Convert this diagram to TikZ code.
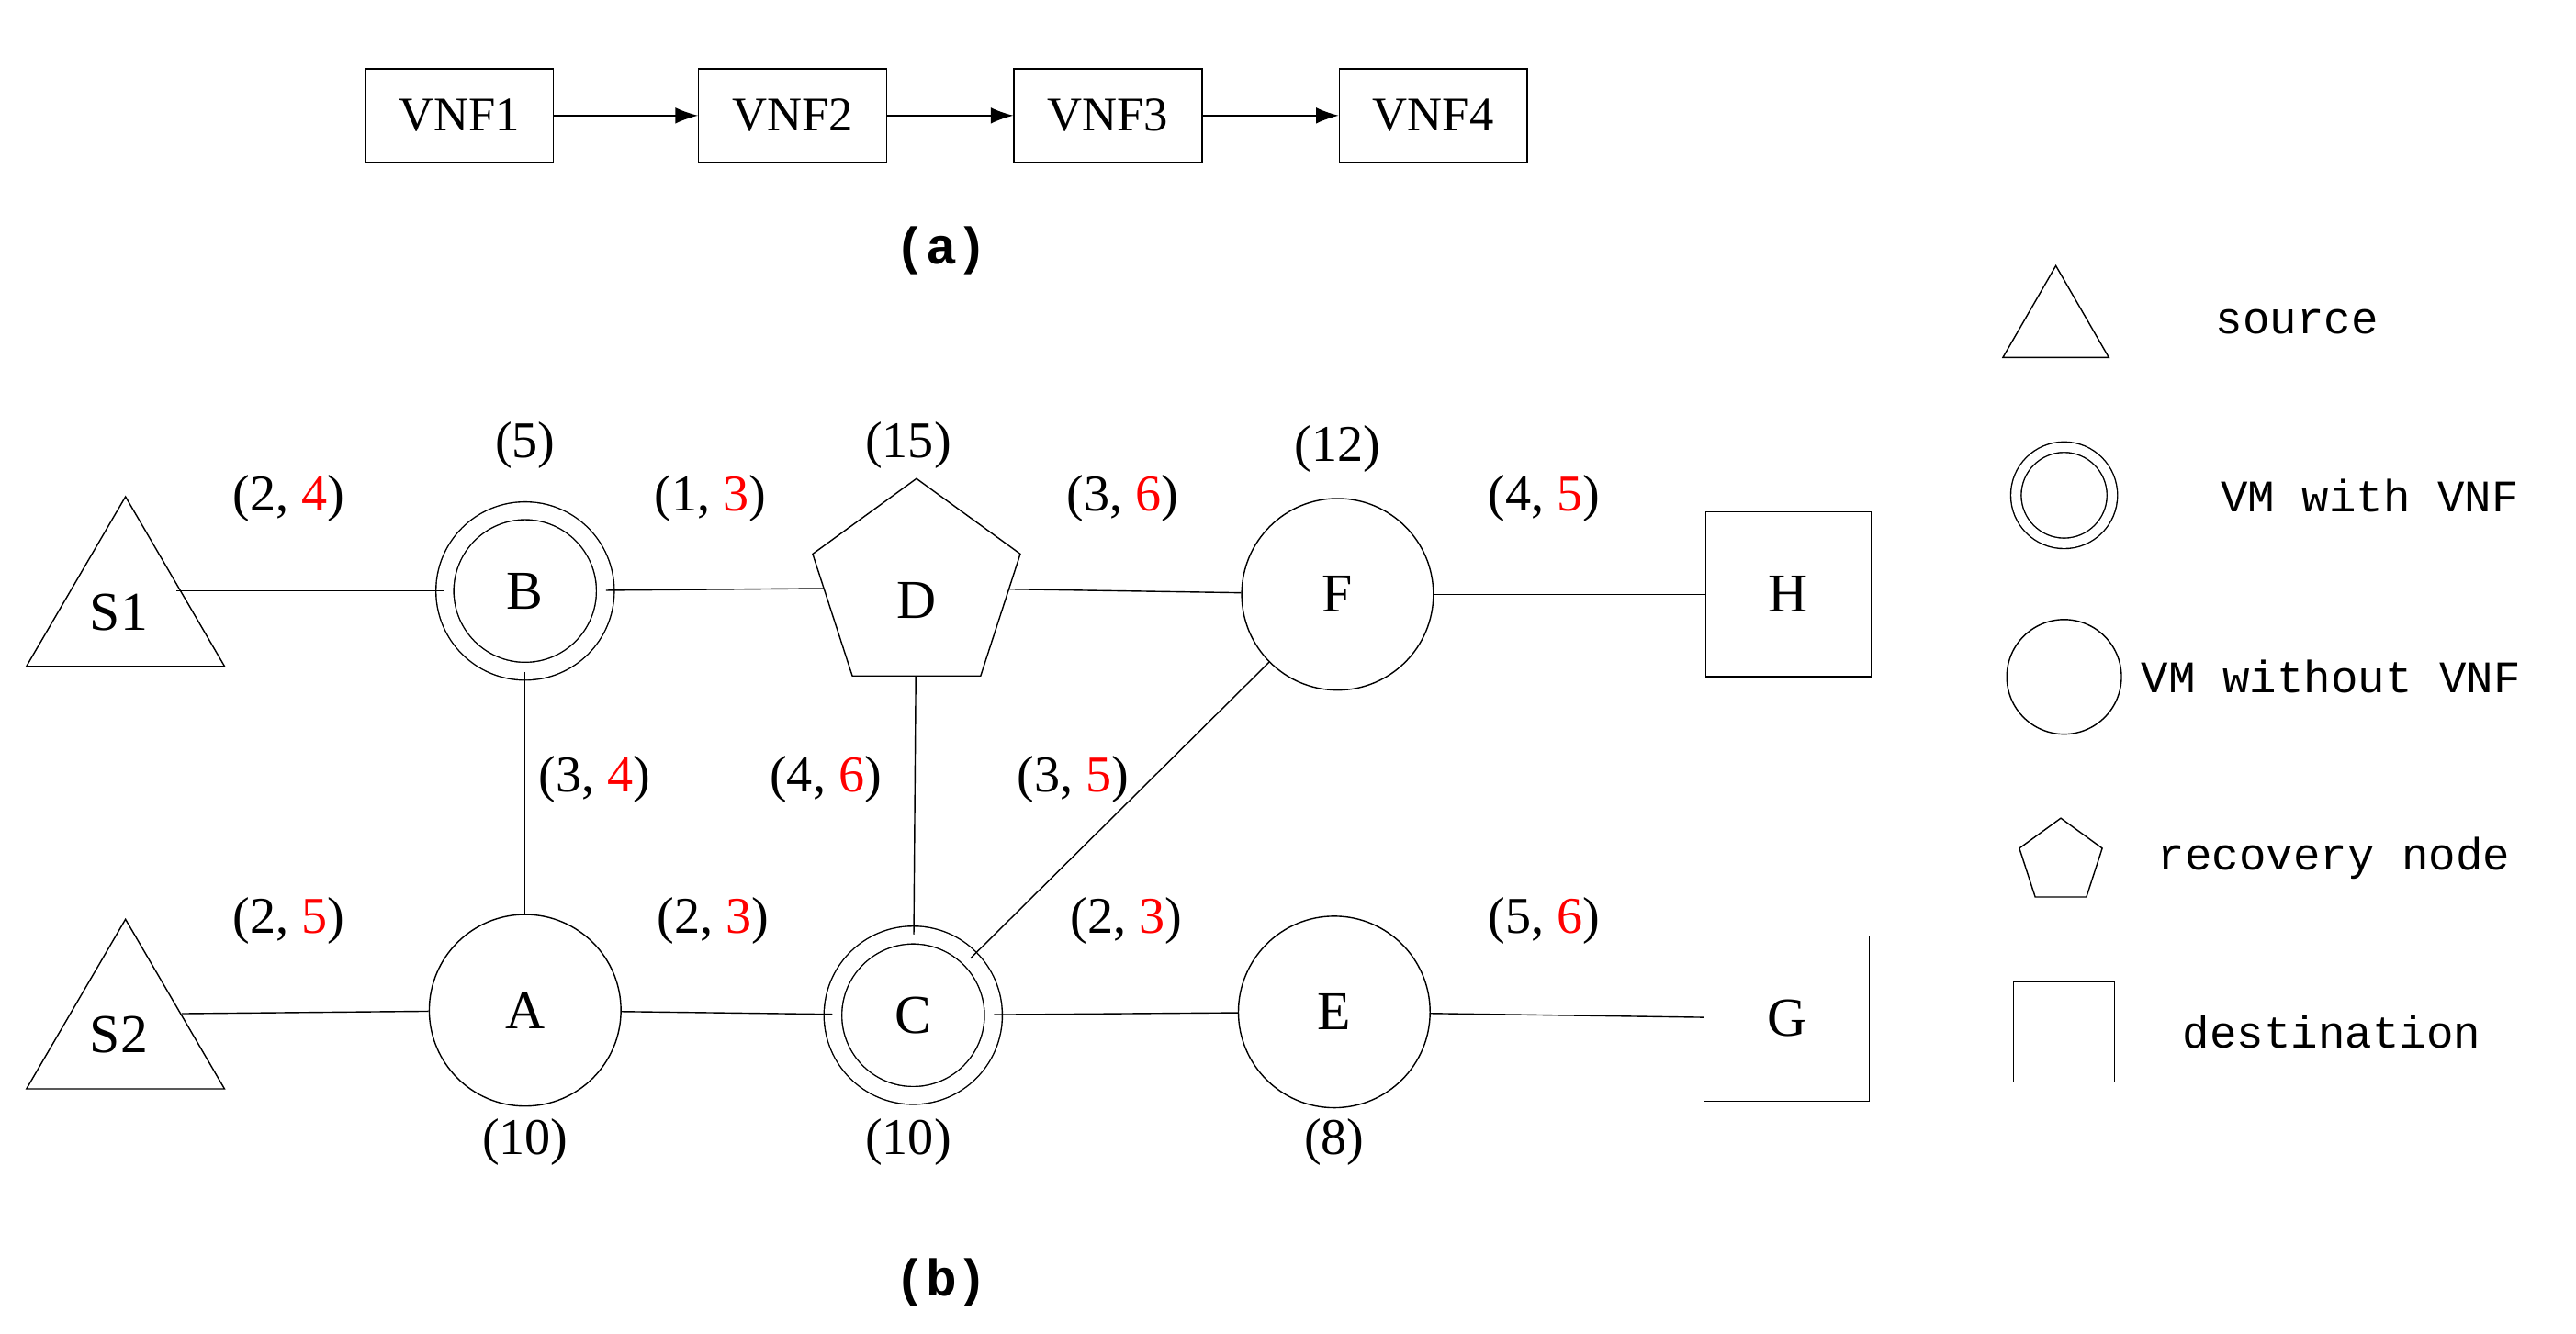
\documentclass[tikz,border=0pt]{standalone}
\usepackage{fontspec}
\setmainfont{Liberation Serif}
\newfontfamily\mono{Liberation Mono}
\usetikzlibrary{shapes.geometric,arrows.meta}
\begin{document}
\begin{tikzpicture}[x=0.018cm,y=-0.018cm,
  box/.style={draw,minimum width=2.05cm,minimum height=1.02cm,inner sep=0,font=\fontsize{15}{17}\selectfont},
  arr/.style={-{Latex[length=7pt,width=5pt]}},
  vm/.style={draw,circle,minimum size=2.09cm,inner sep=0,font=\fontsize{17}{19}\selectfont},
  vmv/.style={draw,circle,double,double distance=0.18cm,minimum size=1.75cm,inner sep=0,font=\fontsize{17}{19}\selectfont},
  tri/.style={draw,isosceles triangle,isosceles triangle apex angle=60,isosceles triangle stretches,shape border rotate=90,minimum width=2.16cm,minimum height=1.85cm,inner sep=0,anchor=south},
  pent/.style={draw,regular polygon,regular polygon sides=5,minimum size=2.38cm,inner sep=0},
  dst/.style={draw,minimum size=1.8cm,inner sep=0,font=\fontsize{17}{19}\selectfont},
  lab/.style={font=\fontsize{16}{18}\selectfont},
  nm/.style={font=\fontsize{17}{19}\selectfont},
  leg/.style={font=\mono\fontsize{14}{16}\selectfont,anchor=west}]
\useasboundingbox (0,0) rectangle (1560,808);
% (a)
\node[box] (v1) at (278,70) {VNF1};
\node[box] (v2) at (480,70) {VNF2};
\node[box] (v3) at (671,70) {VNF3};
\node[box] (v4) at (868,70) {VNF4};
\draw[arr] (v1) -- (v2);
\draw[arr] (v2) -- (v3);
\draw[arr] (v3) -- (v4);
\node[font=\mono\bfseries\fontsize{16}{18}\selectfont] (ta) at (570,152) {(a)};
% (b) nodes
\node[tri] (s1) at (76,404) {};
\node[nm] (s1l) at (72,371) {S1};
\node[tri] (s2) at (76,660) {};
\node[nm] (s2l) at (72,627) {S2};
\node[vmv] (B) at (318,358) {B};
\node[pent] (D) at (555,356) {};
\node[nm] (Dl) at (555,364) {D};
\node[vm] (F) at (810,360) {F};
\node[dst] (H) at (1083,360) {H};
\node[vm] (A) at (318,612) {A};
\node[vmv] (C) at (553,615) {C};
\node[vm] (E) at (808,613) {E};
\node[dst] (G) at (1082,617) {G};
\coordinate (s1e) at (107,358);
\coordinate (s2e) at (110,614);
% edges
\draw (s1e) -- (B);
\draw (B) -- (D);
\draw (D) -- (F);
\draw (F) -- (H);
\draw (B) -- (A);
\draw (D) -- (C);
\draw (C) -- (F);
\draw (s2e) -- (A);
\draw (A) -- (C);
\draw (C) -- (E);
\draw (E) -- (G);
% node weights
\node[lab] (wB) at (318,270) {(5)};
\node[lab] (wD) at (550,270) {(15)};
\node[lab] (wF) at (810,272) {(12)};
\node[lab] (wA) at (318,692) {(10)};
\node[lab] (wC) at (550,692) {(10)};
\node[lab] (wE) at (808,692) {(8)};
% edge labels
\node[lab] (e1) at (175,302) {(2, \textcolor{red}{4})};
\node[lab] (e2) at (430,302) {(1, \textcolor{red}{3})};
\node[lab] (e3) at (680,302) {(3, \textcolor{red}{6})};
\node[lab] (e4) at (935,302) {(4, \textcolor{red}{5})};
\node[lab] (e5) at (360,472) {(3, \textcolor{red}{4})};
\node[lab] (e6) at (500,472) {(4, \textcolor{red}{6})};
\node[lab] (e7) at (650,472) {(3, \textcolor{red}{5})};
\node[lab] (e8) at (175,558) {(2, \textcolor{red}{5})};
\node[lab] (e9) at (432,558) {(2, \textcolor{red}{3})};
\node[lab] (e10) at (682,558) {(2, \textcolor{red}{3})};
\node[lab] (e11) at (935,558) {(5, \textcolor{red}{6})};
\node[font=\mono\bfseries\fontsize{16}{18}\selectfont] (tb) at (570,777) {(b)};
% legend
\node[draw,isosceles triangle,isosceles triangle apex angle=60,shape border rotate=90,minimum height=1.0cm,inner sep=0] (L1) at (1245,198) {};
\node[draw,circle,double,double distance=0.1cm,minimum size=1.05cm,inner sep=0] (L2) at (1250,300) {};
\node[draw,circle,minimum size=1.25cm,inner sep=0] (L3) at (1250,410) {};
\node[draw,regular polygon,regular polygon sides=5,minimum size=0.95cm,inner sep=0] (L4) at (1248,522) {};
\node[draw,minimum size=1.1cm,inner sep=0] (L5) at (1250,625) {};
\node[leg] (t1) at (1335,195) {source};
\node[leg] (t2) at (1338,300) {VM with VNF};
\node[leg] (t3) at (1290,410) {VM without VNF};
\node[leg] (t4) at (1300,520) {recovery node};
\node[leg] (t5) at (1315,625) {destination};
\end{tikzpicture}
\end{document}
